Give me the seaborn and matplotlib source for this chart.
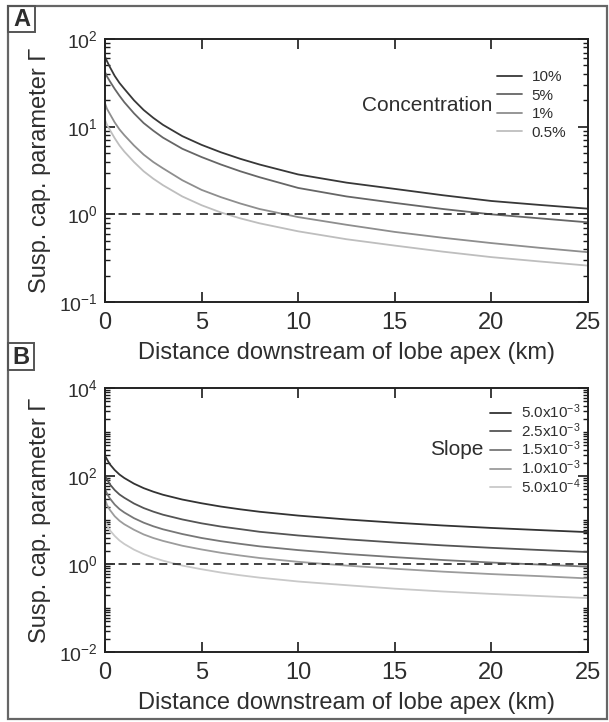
import numpy as np
import pandas as pd
import matplotlib.pyplot as plt
import seaborn as sns
from matplotlib.lines import Line2D
from matplotlib.patches import Rectangle
from matplotlib.ticker import FixedLocator, LogLocator, NullLocator, NullFormatter

# distance downstream of lobe apex (km) - same sampling for every curve
dist_km = [0, 0.1, 0.25, 0.5, 0.75, 1, 1.5, 2, 2.5, 3, 4, 5, 6, 7, 8, 10, 12.5, 15, 17.5, 20, 22.5, 25]

# panel A - concentration
conc_labels = ['10%', '5%', '1%', '0.5%']
conc_colors = ['#383838', '#666666', '#8e8e8e', '#bebebe']
gamma_c10 = [63, 56, 48, 38, 31.5, 27, 20, 15.5, 12.6, 10.5, 7.8, 6.2, 5.1, 4.3, 3.7, 2.85,
             2.3, 1.95, 1.65, 1.42, 1.28, 1.16]
gamma_c5 = [42, 37.5, 33, 27, 22.5, 19, 14.2, 11, 9, 7.5, 5.6, 4.5, 3.7, 3.1, 2.65, 2.0,
            1.6, 1.35, 1.15, 1.0, 0.9, 0.81]
gamma_c1 = [18.5, 16, 14, 11.2, 9.3, 8, 6.1, 4.8, 3.95, 3.35, 2.45, 1.9, 1.57, 1.33, 1.15, 0.93,
            0.76, 0.63, 0.54, 0.47, 0.415, 0.37]
gamma_c05 = [12, 10.5, 9.2, 7.4, 6.1, 5.2, 3.95, 3.1, 2.55, 2.15, 1.6, 1.27, 1.05, 0.9, 0.79, 0.64,
             0.52, 0.44, 0.375, 0.325, 0.29, 0.26]

# panel B - slope
slope_labels = [r'5.0x10$^{-3}$', r'2.5x10$^{-3}$', r'1.5x10$^{-3}$', r'1.0x10$^{-3}$', r'5.0x10$^{-4}$']
slope_colors = ['#333333', '#555555', '#777777', '#9c9c9c', '#c9c9c9']
gamma_s50 = [290, 240, 185, 137, 108, 90, 67, 53, 44, 37.5, 29.2, 24, 20.2, 17.5, 15.4, 12.6,
             10.3, 8.7, 7.5, 6.6, 5.9, 5.3]
gamma_s25 = [102, 85, 65, 48, 38, 32, 23.7, 18.7, 15.5, 13.2, 10.3, 8.4, 7.1, 6.2, 5.4, 4.45,
             3.65, 3.08, 2.65, 2.33, 2.08, 1.87]
gamma_s15 = [52, 40, 31, 22.5, 17.7, 14.8, 11, 8.7, 7.2, 6.15, 4.8, 3.9, 3.3, 2.87, 2.52, 2.07,
             1.69, 1.43, 1.23, 1.08, 0.97, 0.87]
gamma_s10 = [30, 22, 17, 12.2, 9.6, 8.0, 6.0, 4.7, 3.9, 3.35, 2.6, 2.14, 1.8, 1.56, 1.37, 1.12,
             0.92, 0.78, 0.67, 0.59, 0.53, 0.47]
gamma_s05 = [9.2, 7.6, 5.85, 4.35, 3.42, 2.85, 2.12, 1.68, 1.39, 1.19, 0.92, 0.76, 0.64, 0.555, 0.49, 0.40,
             0.33, 0.275, 0.237, 0.209, 0.187, 0.168]

conc_series = [gamma_c10, gamma_c5, gamma_c1, gamma_c05]
slope_series = [gamma_s50, gamma_s25, gamma_s15, gamma_s10, gamma_s05]

df_a = pd.concat([pd.DataFrame({'km': dist_km, 'gamma': g, 'case': lab})
                  for lab, g in zip(conc_labels, conc_series)], ignore_index=True)
df_b = pd.concat([pd.DataFrame({'km': dist_km, 'gamma': g, 'case': lab})
                  for lab, g in zip(slope_labels, slope_series)], ignore_index=True)

sns.set_style('ticks')
plt.rcParams.update({
    'font.family': ['Liberation Sans', 'DejaVu Sans'],
    'mathtext.default': 'regular',
})
txt = '#2e2e2e'

fig = plt.figure(figsize=(6.09, 7.22), dpi=100)
W, H = 609, 722


def px_axes(left, top, right, bottom):
    return fig.add_axes([left / W, 1 - bottom / H, (right - left) / W, (bottom - top) / H])


ax_a = px_axes(105, 39, 588, 302)
ax_b = px_axes(105, 388, 588, 652)


def style_axis(ax, df, labels, colors, ylim, yticks):
    sns.lineplot(data=df, x='km', y='gamma', hue='case', hue_order=labels,
                 palette=dict(zip(labels, colors)), ax=ax, legend=False, lw=1.3)
    ax.axhline(1, color='#333333', lw=1.3, ls=(0, (4.5, 3)))
    ax.set_yscale('log')
    ax.set_xlim(0, 25)
    ax.set_ylim(*ylim)
    ax.xaxis.set_major_locator(FixedLocator([0, 5, 10, 15, 20, 25]))
    ax.xaxis.set_minor_locator(NullLocator())
    ax.yaxis.set_major_locator(FixedLocator(yticks))
    ax.yaxis.set_minor_locator(LogLocator(base=10, subs=np.arange(1, 10), numticks=100))
    ax.yaxis.set_minor_formatter(NullFormatter())
    ax.tick_params(which='both', direction='in', bottom=True, left=True, top=True, right=True,
                   color='#1a1a1a')
    ax.tick_params(which='major', length=7, width=1.2)
    ax.tick_params(which='minor', length=3.5, width=1.0)
    ax.tick_params(axis='x', labelsize=17, pad=7, labelcolor=txt)
    ax.tick_params(axis='y', labelsize=14, pad=5, labelcolor=txt)
    for s in ax.spines.values():
        s.set_visible(True)
        s.set_color('#222222')
        s.set_linewidth(1.4)
    ax.set_xlabel('Distance downstream of lobe apex (km)', fontsize=17, color=txt, labelpad=6)
    ax.set_ylabel('Susp. cap. parameter Γ', fontsize=17, color=txt, labelpad=6)


style_axis(ax_a, df_a, conc_labels, conc_colors, (0.1, 100), [0.1, 1, 10, 100])
style_axis(ax_b, df_b, slope_labels, slope_colors, (0.01, 10000), [0.01, 1, 100, 10000])

h_a = [Line2D([], [], color=c, lw=1.3) for c in conc_colors]
ax_a.legend(h_a, conc_labels, frameon=False, loc='upper left', bbox_to_anchor=(0.812, 0.882),
            fontsize=11, handlelength=1.6, handletextpad=0.65, labelspacing=0.3,
            borderpad=0, borderaxespad=0, labelcolor=txt)
ax_a.text(0.803, 0.749, 'Concentration', transform=ax_a.transAxes, ha='right', va='center',
          fontsize=15, color=txt)

h_b = [Line2D([], [], color=c, lw=1.3) for c in slope_colors]
ax_b.legend(h_b, slope_labels, frameon=False, loc='upper left', bbox_to_anchor=(0.797, 0.945),
            fontsize=11, handlelength=1.4, handletextpad=0.65, labelspacing=0.0,
            borderpad=0, borderaxespad=0, labelcolor=txt)
ax_b.text(0.783, 0.768, 'Slope', transform=ax_b.transAxes, ha='right', va='center',
          fontsize=15, color=txt)

# outer frame and panel letters
fig.patches.append(Rectangle((8 / W, 1 - 719 / H), 599 / W, 713 / H, transform=fig.transFigure,
                             fill=False, edgecolor='#666666', lw=1.6))
fig.patches.append(Rectangle((8 / W, 1 - 32 / H), 27 / W, 26 / H, transform=fig.transFigure,
                             fill=False, edgecolor='#555555', lw=1.4))
fig.patches.append(Rectangle((8 / W, 1 - 370 / H), 26 / W, 27 / H, transform=fig.transFigure,
                             fill=False, edgecolor='#555555', lw=1.4))
fig.text(21.5 / W, 1 - 19.5 / H, 'A', ha='center', va='center', fontsize=17, fontweight='bold', color=txt)
fig.text(21 / W, 1 - 357 / H, 'B', ha='center', va='center', fontsize=17, fontweight='bold', color=txt)

fig.savefig('out.png', dpi=100)
